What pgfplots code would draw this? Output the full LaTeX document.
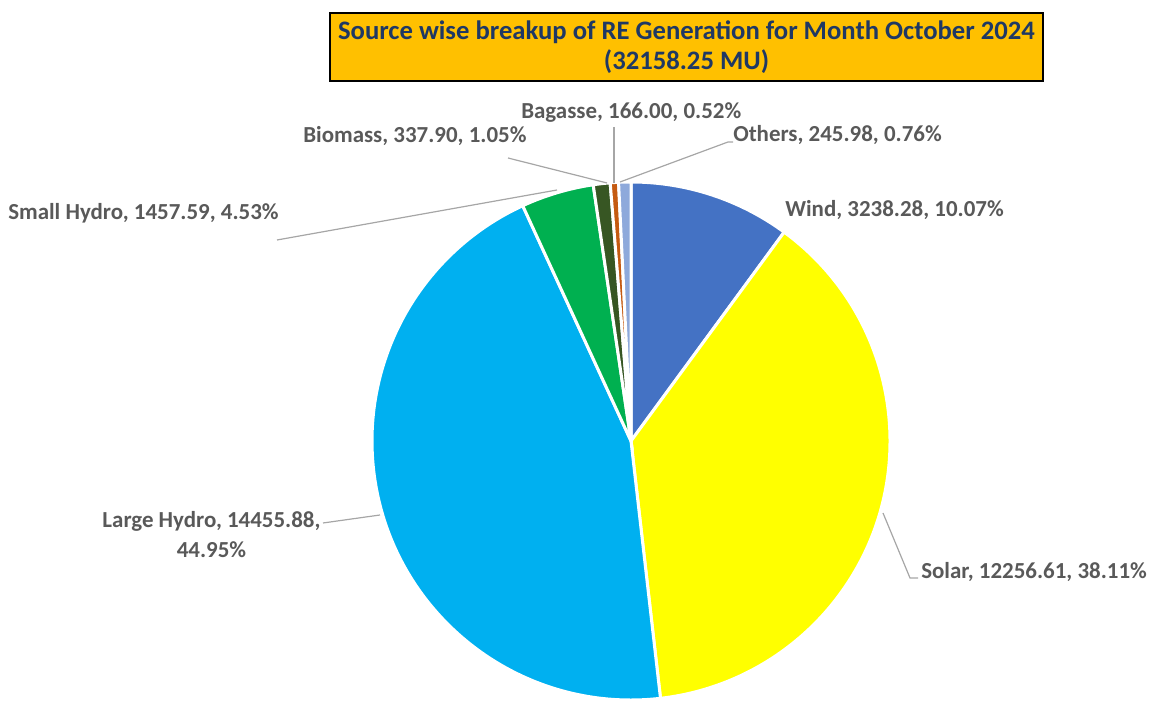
\documentclass[border=0pt]{standalone}
\usepackage{pgfplots}
\pgfplotsset{compat=1.18}
\usepackage{fontspec}
\setmainfont{Carlito}
\definecolor{windc}{HTML}{4472C4}
\definecolor{solarc}{HTML}{FFFF00}
\definecolor{lhydroc}{HTML}{00B0F0}
\definecolor{shydroc}{HTML}{00B050}
\definecolor{biomc}{HTML}{375623}
\definecolor{bagc}{HTML}{C55A11}
\definecolor{othc}{HTML}{8EA9DB}
\definecolor{titlefill}{HTML}{FFC000}
\definecolor{titletxt}{HTML}{1F3864}
\definecolor{lbl}{HTML}{595959}
\definecolor{leader}{HTML}{A6A6A6}
\tikzset{
  lab/.style={anchor=west,inner sep=0pt,text=lbl,font=\fontsize{17.2}{22.5}\selectfont\bfseries},
  lead/.style={draw=leader,line width=0.9pt},
}
\begin{document}
\begin{tikzpicture}
% 1 unit = 1 px of the 1154x702 reference, y measured from the bottom
\begin{axis}[
  scale only axis, width=865.5pt, height=526.5pt,
  xmin=0, xmax=1154, ymin=0, ymax=702,
  axis lines=none, clip=false,
]
% keep the whole canvas in the bounding box
\path (axis cs:0,0) rectangle (axis cs:1154,702);
% pie: values in MU, clockwise from 12 o'clock
\gdef\angA{90}
\foreach \v/\c in {3238.28/windc, 12256.61/solarc, 14455.88/lhydroc,
                   1457.59/shydroc, 337.90/biomc, 166.00/bagc, 245.98/othc} {
  \edef\angB{\fpeval{round(\angA - \v/32158.25*360, 4)}}
  \edef\slice{\noexpand\fill[\c, draw=white, line width=2.25pt]
    (axis cs:631,261) -- ++(\angA:194.25pt)
    arc[start angle=\angA, end angle=\angB, radius=194.25pt] -- cycle;}
  \slice
  \global\let\angA\angB
}

% leader lines
\draw[lead] (axis cs:883,189) -- (axis cs:910,124) -- (axis cs:918,124);
\draw[lead] (axis cs:323,179) -- (axis cs:380,187);
\draw[lead] (axis cs:277,462) -- (axis cs:557,512);
\draw[lead] (axis cs:508,544) -- (axis cs:607,519);
\draw[lead] (axis cs:614,575) -- (axis cs:614,519);
\draw[lead] (axis cs:620,520) -- (axis cs:728,560) -- (axis cs:733,560);

% data labels
\node[lab] at (axis cs:785,492) {Wind, 3238.28, 10.07\%};
\node[lab] at (axis cs:921,130) {Solar, 12256.61, 38.11\%};
\node[lab,anchor=center,align=center] at (axis cs:211.5,167) {Large Hydro, 14455.88,\\44.95\%};
\node[lab] at (axis cs:8,489) {Small Hydro, 1457.59, 4.53\%};
\node[lab] at (axis cs:303,566) {Biomass, 337.90, 1.05\%};
\node[lab] at (axis cs:521,589) {Bagasse, 166.00, 0.52\%};
\node[lab] at (axis cs:733,567) {Others, 245.98, 0.76\%};

% title
\node[fill=titlefill, draw=black, line width=0.9pt, minimum width=534.75pt,
      minimum height=51pt, inner sep=0pt, align=center, text=titletxt,
      font=\fontsize{20}{22.5}\selectfont\bfseries]
  at (axis cs:686.5,655) {Source wise breakup of RE Generation for Month October 2024\\(32158.25 MU)};
\end{axis}
\end{tikzpicture}
\end{document}
